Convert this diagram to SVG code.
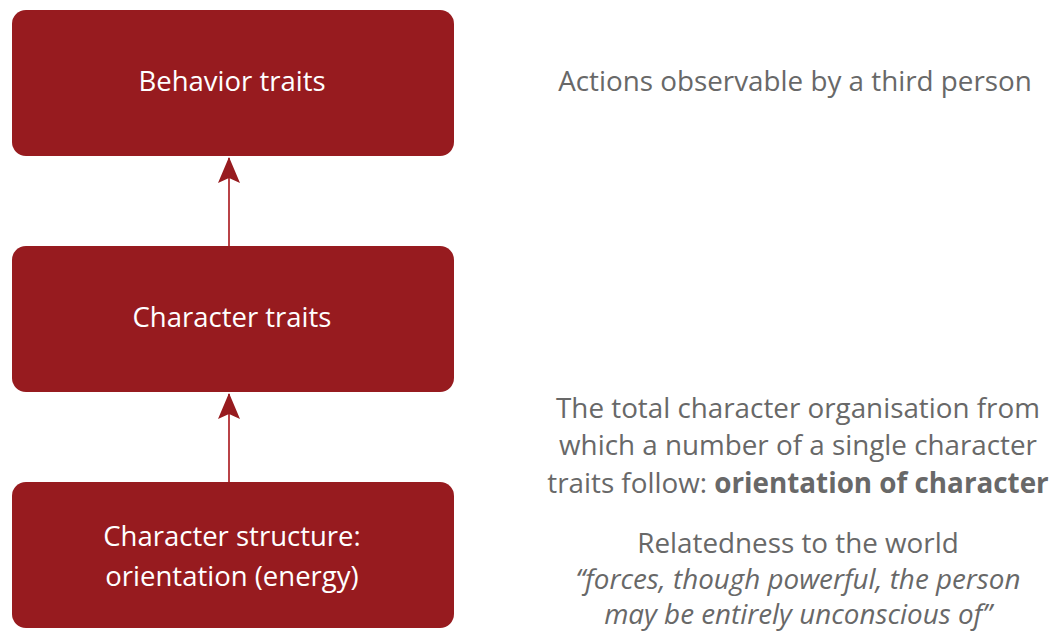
<svg xmlns="http://www.w3.org/2000/svg" width="1056" height="634" viewBox="0 0 1056 634">
<style>
.box{fill:#971b1f;}
.bt{font-family:"Open Sans","Liberation Sans",sans-serif;font-size:27.5px;fill:#ffffff;text-anchor:middle;}
.note{font-family:"Open Sans","Liberation Sans",sans-serif;font-size:27.8px;fill:#686868;text-anchor:middle;}
.conn{stroke:#b94347;stroke-width:2;fill:none;}
</style>
<defs>
<marker id="ah" viewBox="0 0 26 22" refX="25" refY="11" markerWidth="26" markerHeight="22" markerUnits="userSpaceOnUse" orient="auto">
<path d="M26 11 L0 0 L5 11 L0 22 Z" fill="#971b1f"/>
</marker>
</defs>
<rect width="1056" height="634" fill="#ffffff"/>
<g id="connectors">
<line class="conn" x1="229" y1="246" x2="229" y2="158" marker-end="url(#ah)"/>
<line class="conn" x1="229" y1="482" x2="229" y2="394" marker-end="url(#ah)"/>
</g>
<g id="behavior">
<rect class="box" x="12" y="10" width="442" height="146" rx="14"/>
<text class="bt" x="232" y="91">Behavior traits</text>
</g>
<g id="character">
<rect class="box" x="12" y="246" width="442" height="146" rx="14"/>
<text class="bt" x="232" y="327">Character traits</text>
</g>
<g id="structure">
<rect class="box" x="12" y="482" width="442" height="146" rx="14"/>
<text class="bt" x="232" y="546">Character structure:</text>
<text class="bt" x="232" y="586">orientation (energy)</text>
</g>
<g id="notes">
<text class="note" x="795" y="91">Actions observable by a third person</text>
<text class="note" x="798" y="418">The total character organisation from</text>
<text class="note" x="798" y="455">which a number of a single character</text>
<text class="note" x="798" y="493">traits follow: <tspan font-weight="bold">orientation of character</tspan></text>
<text class="note" x="798" y="553">Relatedness to the world</text>
<text class="note" x="798" y="589" font-style="italic">“forces, though powerful, the person</text>
<text class="note" x="798" y="624" font-style="italic">may be entirely unconscious of”</text>
</g>
</svg>
